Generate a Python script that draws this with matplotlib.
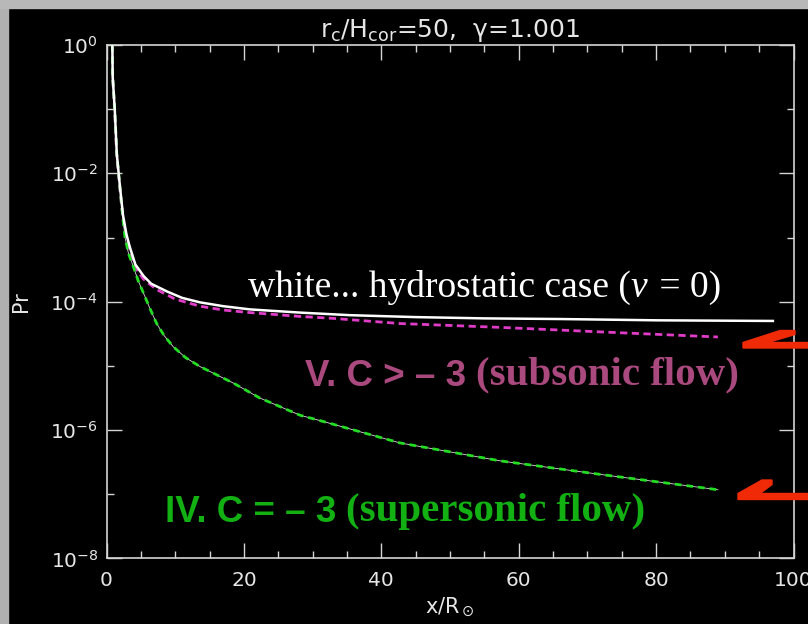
import matplotlib
matplotlib.use("Agg")
import matplotlib.pyplot as plt
import matplotlib.patches as patches
from matplotlib import font_manager
from matplotlib.ticker import NullFormatter
import numpy as np

# values (x in R_sun, log10 of Pr)
x_white = [0.85, 0.9, 1.2, 1.5, 2.0, 2.4, 2.9, 3.4, 4.2, 5.4, 6.5, 8.8, 11,
           13.6, 17, 20.9, 28.2, 35.4, 45, 55, 66, 80, 97]
logp_white = [0.0, -0.5, -1.0, -1.7, -2.25, -2.65, -2.95, -3.15, -3.42, -3.6,
              -3.72, -3.84, -3.94, -4.01, -4.07, -4.12, -4.17, -4.21, -4.24,
              -4.26, -4.27, -4.29, -4.30]

x_sub = [0.85, 0.9, 1.2, 1.5, 2.0, 2.4, 2.9, 3.4, 4.2, 5.4, 7.3, 10, 13.6,
         17, 20.9, 28.2, 33, 42.7, 57.3, 71.8, 89]
logp_sub = [0.0, -0.5, -1.05, -1.75, -2.3, -2.7, -3.0, -3.2, -3.47, -3.65,
            -3.81, -3.96, -4.07, -4.13, -4.17, -4.23, -4.26, -4.34, -4.40,
            -4.47, -4.55]

x_sup = [0.85, 0.9, 1.2, 1.5, 2.0, 2.4, 2.7, 3.2, 3.9, 4.6, 5.4, 6.3, 7.3,
         8.4, 9.7, 11.5, 13.6, 18.5, 22.3, 28.2, 31, 42.7, 57.3, 71.8, 89]
logp_sup = [0.0, -0.5, -1.0, -1.7, -2.27, -2.72, -3.0, -3.25, -3.45, -3.67,
            -3.87, -4.1, -4.34, -4.53, -4.70, -4.87, -5.01, -5.27, -5.50,
            -5.77, -5.85, -6.20, -6.48, -6.69, -6.93]

y_major = [1e-8, 1e-6, 1e-4, 1e-2, 1e0]
y_minor = [1e-7, 1e-5, 1e-3, 1e-1]

title = r"r$\mathregular{_c}$/H$\mathregular{_{cor}}$=50,  γ=1.001"

names = {f.name for f in font_manager.fontManager.ttflist}
narrow = "Liberation Sans Narrow" if "Liberation Sans Narrow" in names else "Liberation Sans"
sans_size = 29.5 if narrow == "Liberation Sans Narrow" else 26.5

W, H = 808, 624
fig = plt.figure(figsize=(W / 100, H / 100), dpi=100, facecolor="black")
ax = fig.add_axes([106.5 / W, 1 - 558.4 / H, 687 / W, 513.4 / H])
ax.set_facecolor("black")

# gray frame strips on the left and top
fig.patches.append(patches.Rectangle((0, 0), 8 / W, 1, transform=fig.transFigure,
                                     color="#b0b0b0", zorder=0))
fig.patches.append(patches.Rectangle((0, 1 - 8 / H), 1, 8 / H, transform=fig.transFigure,
                                     color="#b8b8b8", zorder=0))

ax.plot(x_white, 10 ** np.array(logp_white), color="white", lw=1.8, zorder=5)
ax.plot(x_sub, 10 ** np.array(logp_sub), color="#e03cc8", lw=2.0,
        dashes=(2.6, 1.6), zorder=4)
ax.plot(x_sup, 10 ** np.array(logp_sup), color="#d8d8d8", lw=0.6, zorder=3)
ax.plot(x_sup, 10 ** np.array(logp_sup), color="#22dd22", lw=2.0,
        dashes=(2.4, 1.8), zorder=4)

ax.set_yscale("log")
ax.set_xlim(0, 100)
ax.set_ylim(1e-8, 1)
ax.set_xticks(np.arange(0, 101, 20))
ax.set_xticks(np.arange(0, 101, 5), minor=True)
ax.set_yticks(y_major)
ax.set_yticks(y_minor, minor=True)
ax.yaxis.set_minor_formatter(NullFormatter())

fg = "#d4d4d4"
for s in ax.spines.values():
    s.set_color(fg)
    s.set_linewidth(1.2)
ax.tick_params(which="both", direction="in", top=True, right=True, color=fg,
               labelcolor="#e6e6e6", labelsize=14.5, width=1.0)
ax.tick_params(which="major", length=10.5)
ax.tick_params(which="minor", length=5)
ax.tick_params(axis="x", pad=9)
ax.tick_params(axis="y", pad=6)

ax.set_title(title, color="#e6e6e6", fontsize=18, pad=6)
ax.set_xlabel(r"x/R$_\odot$", color="#e6e6e6", fontsize=15, va="center")
ax.xaxis.set_label_coords(0.5, -0.095)
ax.set_ylabel("Pr", color="#e6e6e6", fontsize=15, va="center", ha="center")
ax.yaxis.set_label_coords(-0.124, 0.5)

# annotations
t_white = ax.text(20.6, 10 ** -3.92, "white... hydrostatic case (", color="white",
                  fontsize=27, family="Liberation Serif", va="baseline", zorder=6)
t_v = ax.annotate("v", xy=(1, 0), xycoords=t_white, va="bottom", color="white",
                  fontsize=27, family="Liberation Serif", style="italic")
ax.annotate(" = 0)", xy=(1, 0), xycoords=t_v, va="bottom", color="white",
            fontsize=27, family="Liberation Serif", xytext=(2, 0),
            textcoords="offset points")

mauve = "#a9497d"
t1 = ax.text(28.9, 10 ** -5.31, "V. C > – 3", color=mauve, fontsize=sans_size,
             family=narrow, weight="bold", va="baseline")
ax.annotate("(subsonic flow)", xy=(1, 0), xycoords=t1, xytext=(7, 0),
            textcoords="offset points", va="bottom", color=mauve,
            fontsize=29.5, family="Liberation Serif", weight="bold")

green = "#12b012"
t2 = ax.text(8.5, 10 ** -7.43, "IV. C = – 3", color=green, fontsize=sans_size,
             family=narrow, weight="bold", va="baseline")
ax.annotate("(supersonic flow)", xy=(1, 0), xycoords=t2, xytext=(7, 0),
            textcoords="offset points", va="bottom", color=green,
            fontsize=29.5, family="Liberation Serif", weight="bold")

# red half-arrowheads at the right edge (pixel coordinates, y from top)
arrows = [
    [(743, 348), (808, 348), (808, 342.5), (768, 342.5), (795, 334.5),
     (795, 330.5), (780, 330.5), (743, 342.5)],
    [(738, 499.5), (808, 499.5), (808, 493.5), (760, 493.5), (772, 484.5),
     (772, 480), (762, 480), (738, 493.5)],
]
for pts in arrows:
    xy = [(px / W, 1 - py / H) for px, py in pts]
    fig.patches.append(patches.Polygon(xy, closed=True, transform=fig.transFigure,
                                       color="#f02a06", zorder=10))

fig.savefig("out.png", dpi=100, facecolor="black")
